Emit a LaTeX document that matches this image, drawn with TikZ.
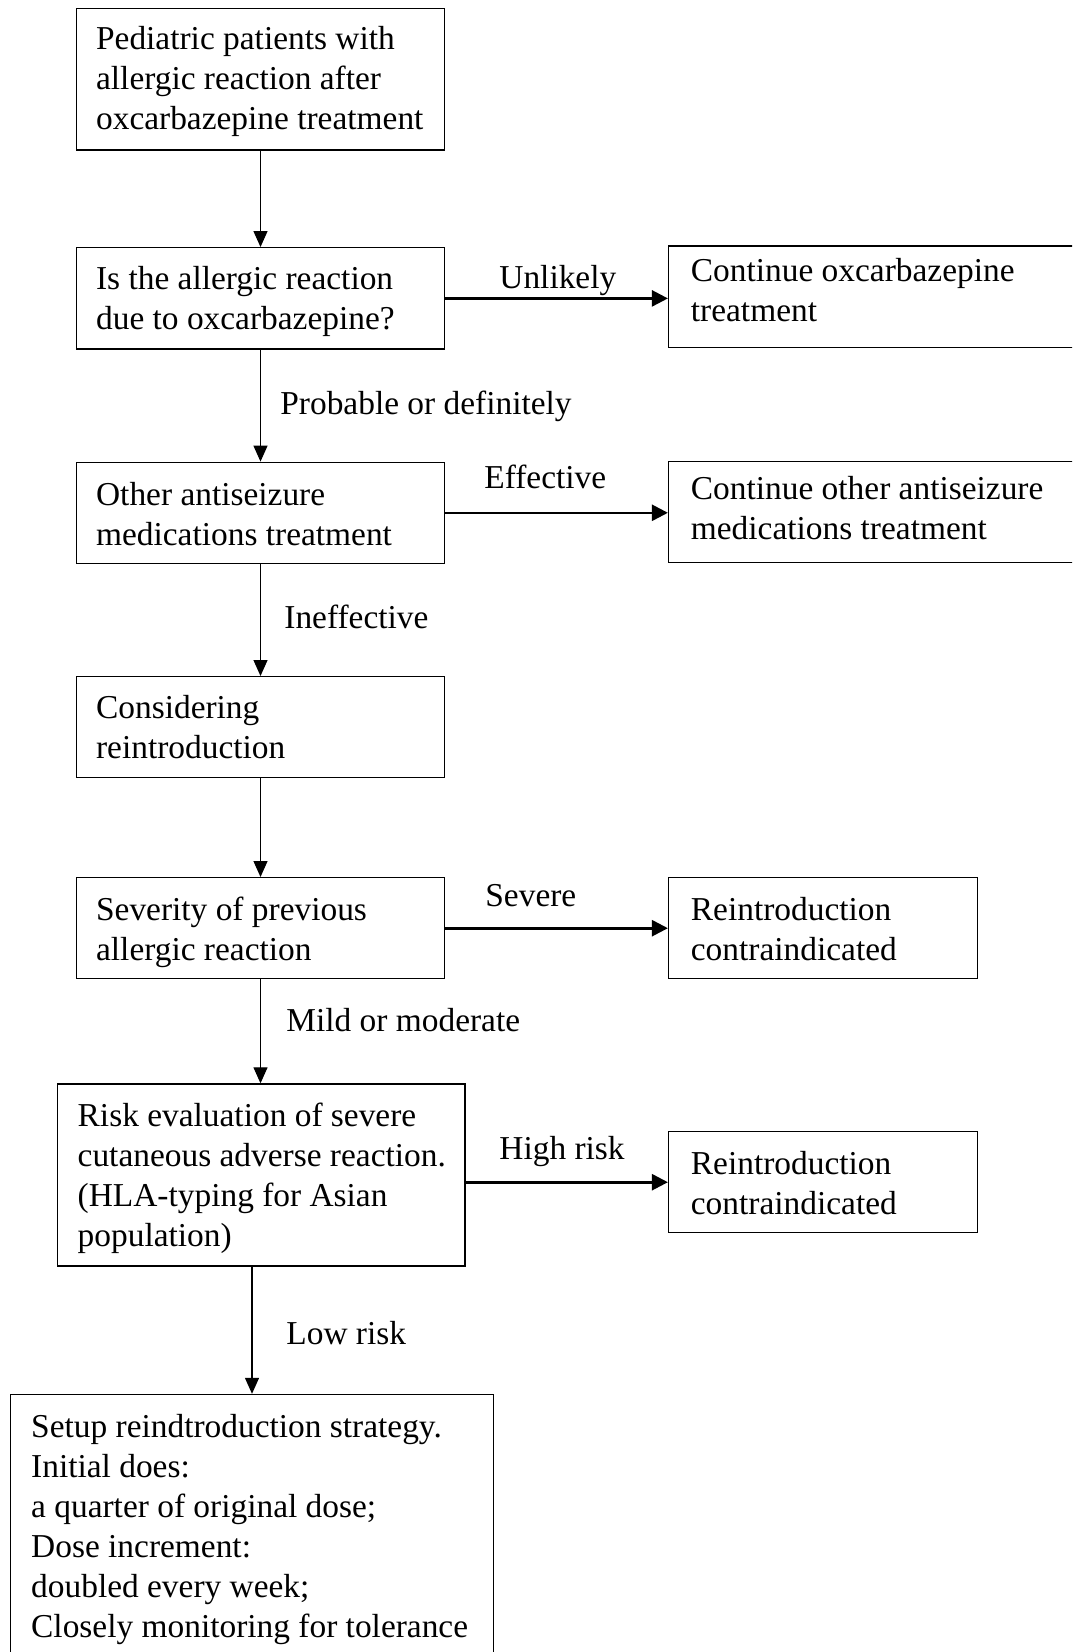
\documentclass[tikz,border=0pt]{standalone}
\usepackage{fontspec}
\setmainfont{Liberation Serif}
\usetikzlibrary{arrows.meta}
\begin{document}
\begin{tikzpicture}[x=1pt,y=-1pt,
  box/.style={draw, line width=0.7pt, rectangle, inner sep=0pt},
  lbox/.style={box, minimum width=183.9pt},
  rbox/.style={box, minimum width=154.5pt, minimum height=50.5pt},
  wbox/.style={box, minimum width=210.7pt},
  txt/.style={anchor=base west, align=left, inner sep=0pt,
    font=\fontsize{16.7}{20}\selectfont},
  lab/.style={font=\fontsize{16.7}{20}\selectfont, inner sep=0pt, anchor=base west},
  varrow/.style={line width=0.65pt, -{Triangle[length=8pt,width=7pt]}},
  harrow/.style={line width=1.3pt, -{Triangle[length=8pt,width=8pt]}}]
\useasboundingbox (0,0) rectangle (536,826);
\clip (0,0) rectangle (536,826);

% boxes
\node[lbox, minimum height=70.85pt] (b1) at (130.25,39.6) {};
\node[lbox, minimum height=50.65pt] (b2) at (130.25,149.2) {};
\node[wbox, minimum height=50.85pt] (r1) at (439.65,148.4) {};
\node[lbox, minimum height=50.5pt] (b3) at (130.25,256.4) {};
\node[wbox, minimum height=50.5pt] (r2) at (439.65,255.9) {};
\node[lbox, minimum height=50.5pt] (b4) at (130.25,363.6) {};
\node[lbox, minimum height=50.5pt] (b5) at (130.25,464.1) {};
\node[rbox] (r3) at (411.55,464.1) {};
\node[box, minimum width=203.75pt, minimum height=91pt] (b6) at (130.6,587.5) {};
\node[rbox] (r4) at (411.55,591.1) {};
\node[box, minimum width=241.65pt, minimum height=139pt] (b7) at (126,766.75) {};

% box texts (anchored at the baseline of the last line)
\node[txt] (t1) at (47.85,65) {Pediatric patients with\\allergic reaction after\\oxcarbazepine treatment};
\node[txt] (t2) at (47.85,165) {Is the allergic reaction\\due to oxcarbazepine?};
\node[txt] (tr1) at (345.25,160.75) {Continue oxcarbazepine\\treatment};
\node[txt] (t3) at (47.85,272.5) {Other antiseizure\\medications treatment};
\node[txt] (tr2) at (345.25,269.5) {Continue other antiseizure\\medications treatment};
\node[txt] (t4) at (47.85,379.2) {Considering\\reintroduction};
\node[txt] (t5) at (47.85,480) {Severity of previous\\allergic reaction};
\node[txt] (tr3) at (345.25,480) {Reintroduction\\contraindicated};
\node[txt] (t6) at (38.65,623) {Risk evaluation of severe\\cutaneous adverse reaction.\\(HLA-typing for Asian\\population)};
\node[txt] (tr4) at (345.25,607) {Reintroduction\\contraindicated};
\node[txt] (t7) at (15.4,818.7) {Setup reindtroduction strategy.\\Initial does:\\a quarter of original dose;\\Dose increment:\\doubled every week;\\Closely monitoring for tolerance};

% connector labels
\node[lab] (l1) at (249.5,144.2) {Unlikely};
\node[lab] (l2) at (140,207.5) {Probable or definitely};
\node[lab] (l3) at (242,244.2) {Effective};
\node[lab] (l4) at (142,314.2) {Ineffective};
\node[lab] (l5) at (242.5,453.3) {Severe};
\node[lab] (l6) at (143,515.8) {Mild or moderate};
\node[lab] (l7) at (249.5,579.7) {High risk};
\node[lab] (l8) at (143,672.2) {Low risk};

% connectors
\draw[varrow] (b1.south) -- (b2.north);
\draw[varrow] (b2.south) -- (b3.north);
\draw[varrow] (b3.south) -- (b4.north);
\draw[varrow] (b4.south) -- (b5.north);
\draw[varrow] (b5.south) -- (b5.south |- b6.north);
\draw[varrow] (b7.north |- b6.south) -- (b7.north);
\draw[harrow] (b2.east) -- (b2.east -| r1.west);
\draw[harrow] (b3.east) -- (b3.east -| r2.west);
\draw[harrow] (b5.east) -- (r3.west);
\draw[harrow] (r4.west -| b6.east) -- (r4.west);
\end{tikzpicture}
\end{document}
